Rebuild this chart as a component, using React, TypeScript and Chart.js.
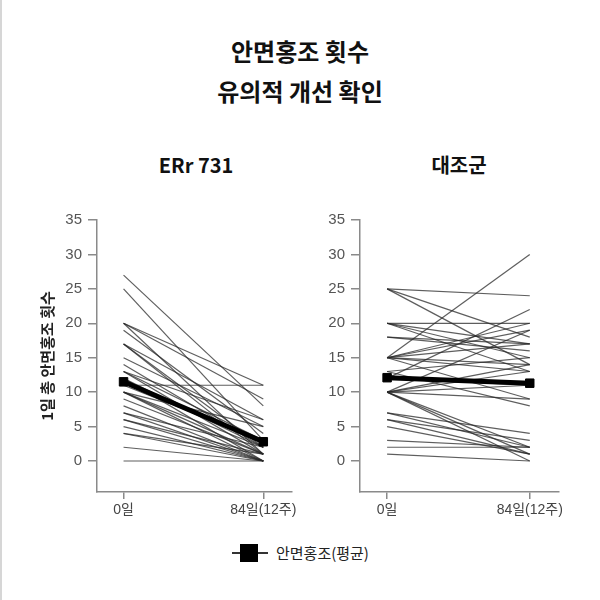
import React, { useEffect, useRef } from 'react';
import { Chart, registerables } from 'chart.js';

Chart.register(...registerables);

const FONT = "'Noto Sans CJK KR', 'Noto Sans', sans-serif";
const TICK_FONT = "'Liberation Sans', 'Noto Sans CJK KR', sans-serif";

const titleLines = ['안면홍조 횟수', '유의적 개선 확인'];
const panelTitles = ['ERr 731', '대조군'];
const yAxisTitle = '1일 총 안면홍조 횟수';
const legendLabel = '안면홍조(평균)';

const timeLabels = ['0일', '84일(12주)'];
const timeX = [0, 1];
const yTicks = [0, 5, 10, 15, 20, 25, 30, 35];

// ERr 731 group: each subject's count at day 0 and at day 84
const errBaseline = [27, 25, 20, 20, 20, 19, 17, 17, 17, 15, 14, 13, 13, 13, 12, 12, 11, 11, 10, 10, 10, 10, 9, 8, 7, 7, 6, 6, 5, 4, 4, 2, 0];
const errWeek12 = [8, 3, 11, 9, 1, 4, 2, 1, 6, 5, 2, 6, 3, 1, 0, 2, 11, 3, 5, 2, 1, 0, 1, 0, 2, 0, 1, 0, 0, 1, 0, 0, 0];
const errMean = [11.5, 2.8];

// Control group
const ctrlBaseline = [25, 25, 25, 20, 20, 20, 20, 18, 18, 15, 15, 15, 15, 15, 15, 15, 13, 13, 12, 12, 10, 10, 10, 10, 10, 10, 10, 10, 7, 7, 6, 6, 5, 3, 2, 1];
const ctrlWeek12 = [24, 18, 14, 20, 17, 15, 13, 17, 16, 30, 20, 19, 17, 14, 13, 9, 15, 8, 22, 11, 19, 14, 13, 11, 9, 2, 1, 0, 4, 2, 3, 1, 1, 2, 2, 0];
const ctrlMean = [12.1, 11.3];

function buildDatasets(base: number[], end: number[], mean: number[]) {
  const ds: any[] = base.map((b, i) => ({
    label: 'subject',
    data: [
      { x: timeX[0], y: b },
      { x: timeX[1], y: end[i] },
    ],
    borderColor: 'rgba(40,40,40,0.75)',
    borderWidth: 1.2,
    pointRadius: 0,
    order: 1,
  }));
  ds.push({
    label: legendLabel,
    data: mean.map((v, i) => ({ x: timeX[i], y: v })),
    borderColor: '#000',
    backgroundColor: '#000',
    borderWidth: 5,
    pointStyle: 'rect',
    pointRadius: 6,
    pointBorderWidth: 1,
    order: 0,
  });
  return ds;
}

function makeConfig(datasets: any[], yWidth: number, rightPad: number, showTitle: boolean): any {
  const axisColor = '#8a8a8a';
  return {
    type: 'line',
    data: { datasets },
    options: {
      animation: false,
      responsive: false,
      maintainAspectRatio: false,
      layout: { autoPadding: false, padding: { left: 0, right: rightPad, top: 20, bottom: 8 } },
      plugins: { legend: { display: false }, tooltip: { enabled: false }, title: { display: false } },
      scales: {
        x: {
          type: 'linear',
          min: -0.19,
          max: 1.205,
          afterBuildTicks: (axis: any) => {
            axis.ticks = timeX.map((v) => ({ value: v }));
          },
          afterFit: (axis: any) => {
            axis.height = 40;
          },
          ticks: {
            callback: (_v: any, i: number) => timeLabels[i],
            color: '#444',
            font: { family: TICK_FONT, size: 14 },
            padding: 3,
            maxRotation: 0,
            autoSkip: false,
          },
          grid: { drawOnChartArea: false, drawTicks: true, tickLength: 7, color: axisColor, lineWidth: 1.5 },
          border: { display: true, color: axisColor, width: 1.5 },
        },
        y: {
          min: -4.5,
          max: 35,
          afterBuildTicks: (axis: any) => {
            axis.ticks = yTicks.map((v) => ({ value: v }));
          },
          afterFit: (axis: any) => {
            axis.width = yWidth;
          },
          ticks: {
            callback: (v: any) => String(v),
            color: '#555',
            font: { family: TICK_FONT, size: 15 },
            padding: 6,
          },
          grid: { drawOnChartArea: false, drawTicks: true, tickLength: 9, color: axisColor, lineWidth: 1.5 },
          border: { display: true, color: axisColor, width: 1.5 },
          title: {
            display: showTitle,
            text: yAxisTitle,
            color: '#222',
            font: { family: FONT, size: 15, weight: 'bold' },
            padding: { top: 38, bottom: 0 },
          },
        },
      },
    },
  };
}

export default function App() {
  const leftRef = useRef<HTMLCanvasElement>(null);
  const rightRef = useRef<HTMLCanvasElement>(null);

  useEffect(() => {
    Chart.defaults.font.family = FONT;
    const c1 = new Chart(leftRef.current!, makeConfig(buildDatasets(errBaseline, errWeek12, errMean), 97, 4, true));
    const c2 = new Chart(rightRef.current!, makeConfig(buildDatasets(ctrlBaseline, ctrlWeek12, ctrlMean), 60, 41, false));
    return () => {
      c1.destroy();
      c2.destroy();
    };
  }, []);

  return (
    <div
      style={{
        position: 'absolute',
        left: 0,
        top: 0,
        width: 600,
        height: 600,
        background: '#fff',
        fontFamily: FONT,
        overflow: 'hidden',
      }}
    >
      <div style={{ position: 'absolute', left: 0, top: 0, width: 2, height: 600, background: '#d6d6d6' }} />
      {titleLines.map((t, i) => (
        <div
          key={i}
          style={{
            position: 'absolute',
            left: 0,
            width: 600,
            top: 31 + i * 40,
            height: 40,
            lineHeight: '40px',
            textAlign: 'center',
            fontSize: 24,
            fontWeight: 'bold',
            color: '#111',
          }}
        >
          {t}
        </div>
      ))}
      {panelTitles.map((t, i) => (
        <div
          key={t}
          style={{
            position: 'absolute',
            left: (i === 0 ? 196 : 459) - 100,
            width: 200,
            top: 150,
            height: 30,
            lineHeight: '30px',
            textAlign: 'center',
            fontSize: 20,
            fontWeight: 'bold',
            color: '#111',
          }}
        >
          {t}
        </div>
      ))}
      <canvas ref={leftRef} width={300} height={340} style={{ position: 'absolute', left: 0, top: 200, width: 300, height: 340 }} />
      <canvas ref={rightRef} width={300} height={340} style={{ position: 'absolute', left: 300, top: 200, width: 300, height: 340 }} />
      <div style={{ position: 'absolute', left: 232, top: 552, width: 36, height: 1.5, background: '#333' }} />
      <div style={{ position: 'absolute', left: 240, top: 544, width: 18, height: 18, background: '#000' }} />
      <div
        style={{
          position: 'absolute',
          left: 276,
          top: 541,
          height: 24,
          lineHeight: '24px',
          fontSize: 15,
          color: '#222',
          whiteSpace: 'nowrap',
        }}
      >
        {legendLabel}
      </div>
    </div>
  );
}
